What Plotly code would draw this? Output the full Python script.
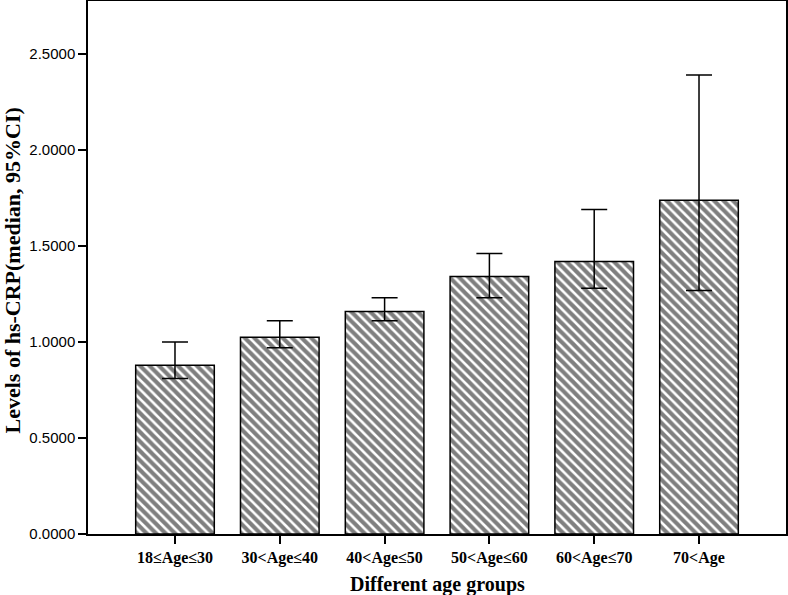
import plotly.graph_objects as go

categories = ["18≤Age≤30", "30<Age≤40", "40<Age≤50", "50<Age≤60", "60<Age≤70", "70<Age"]
medians = [0.878, 1.024, 1.159, 1.341, 1.419, 1.738]
ci_upper = [1.000, 1.110, 1.230, 1.460, 1.690, 2.390]
ci_lower = [0.810, 0.970, 1.110, 1.230, 1.280, 1.268]
y_ticks = [0.0, 0.5, 1.0, 1.5, 2.0, 2.5]
y_tick_labels = ["0.0000", "0.5000", "1.0000", "1.5000", "2.0000", "2.5000"]

err_plus = [u - m for u, m in zip(ci_upper, medians)]
err_minus = [m - l for m, l in zip(medians, ci_lower)]

fig = go.Figure()
fig.add_trace(go.Bar(
    x=list(range(len(categories))),
    y=medians,
    width=0.75,
    marker=dict(
        color="white",
        line=dict(color="black", width=1.5),
        pattern=dict(shape="\\", size=6.7, solidity=0.62, fgcolor="black", bgcolor="white"),
    ),
    error_y=dict(
        type="data", symmetric=False, array=err_plus, arrayminus=err_minus,
        color="black", thickness=1.5, width=13,
    ),
    showlegend=False,
))

fig.update_layout(
    width=788, height=595,
    margin=dict(l=88, r=2, t=1, b=61, autoexpand=False),
    plot_bgcolor="white", paper_bgcolor="white",
    annotations=[
        dict(text="<b>Different age groups</b>", xref="paper", yref="paper", x=0.5, y=0,
             xanchor="center", yanchor="middle", yshift=-50, showarrow=False,
             font=dict(family="Liberation Serif", size=20, color="black")),
        dict(text="<b>Levels of hs-CRP(median, 95%CI)</b>", xref="paper", yref="paper", x=0, y=0.5,
             xanchor="center", yanchor="middle", xshift=-76, yshift=-3, textangle=-90, showarrow=False,
             font=dict(family="Liberation Serif", size=22, color="black")),
    ],
)
fig.update_xaxes(
    automargin=False,
    range=[-0.83, 5.83],
    tickmode="array", tickvals=list(range(len(categories))), ticktext=categories,
    tickfont=dict(family="Liberation Serif", size=16, color="black", weight="bold"),
    ticks="outside", ticklen=8, tickwidth=1.5, tickcolor="black",
    showline=True, linecolor="black", linewidth=1.5, mirror=True,
    showgrid=False, zeroline=False,
)
fig.update_yaxes(
    automargin=False,
    range=[0, 2.775],
    tickmode="array", tickvals=y_ticks, ticktext=y_tick_labels,
    tickfont=dict(family="Liberation Sans", size=15, color="black"),
    ticks="outside", ticklen=8, tickwidth=1.5, tickcolor="black",
    showline=True, linecolor="black", linewidth=1.5, mirror=True,
    showgrid=False, zeroline=False,
)

fig.write_html("out.html", config={"displayModeBar": False},
               post_script="document.body.style.margin='0';")
